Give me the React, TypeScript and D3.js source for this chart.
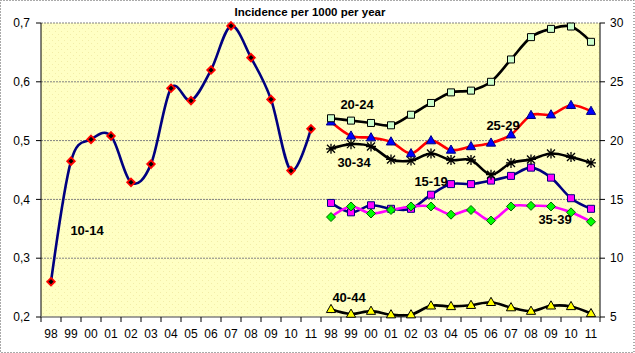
import React from "react";
import * as d3 from "d3";

const years = ["98", "99", "00", "01", "02", "03", "04", "05", "06", "07", "08", "09", "10", "11"];
const categories = [...years, ...years];

const leftTicks = [0.2, 0.3, 0.4, 0.5, 0.6, 0.7];
const rightTicks = [5, 10, 15, 20, 25, 30];

// left axis series (10-14), categories 0..13
const inc1014 = [0.26, 0.465, 0.502, 0.508, 0.429, 0.46, 0.589, 0.568, 0.62, 0.695, 0.641, 0.57, 0.449, 0.52];
// right axis series, categories 14..27
const inc1519 = [14.7, 13.9, 14.5, 14.2, 14.2, 15.4, 16.3, 16.3, 16.6, 17.0, 17.7, 16.85, 15.1, 14.2];
const inc2024 = [21.9, 21.7, 21.5, 21.3, 22.2, 23.2, 24.1, 24.25, 25.0, 26.9, 28.8, 29.5, 29.7, 28.4];
const inc2529 = [21.6, 20.4, 20.25, 19.9, 18.9, 20.0, 19.2, 19.5, 19.8, 20.5, 22.15, 22.2, 23.0, 22.5];
const inc3034 = [19.3, 19.7, 19.5, 18.4, 18.3, 18.9, 18.35, 18.35, 17.1, 18.1, 18.4, 18.9, 18.6, 18.1];
const inc3539 = [13.5, 14.4, 13.8, 14.1, 14.4, 14.4, 13.7, 14.1, 13.2, 14.4, 14.45, 14.4, 13.9, 13.1];
const inc4044 = [5.65, 5.25, 5.5, 5.2, 5.2, 5.95, 5.9, 6.0, 6.25, 5.8, 5.5, 5.95, 5.9, 5.3];

type Marker = "diamond" | "smalldiamond" | "square" | "triangle" | "star";
type Series = {
  name: string; values: number[]; offset: number; axis: "L" | "R";
  line: string; marker: Marker; fill: string; stroke: string; mw: number;
  labelX: number; labelY: number;
};

const series: Series[] = [
  { name: "10-14", values: inc1014, offset: 0, axis: "L", line: "#000080", marker: "smalldiamond", fill: "#000000", stroke: "#FF0000", mw: 1.8, labelX: 1.8, labelY: 0.348 },
  { name: "15-19", values: inc1519, offset: 14, axis: "R", line: "#000080", marker: "square", fill: "#FF00FF", stroke: "#000080", mw: 1, labelX: 19.0, labelY: 16.5 },
  { name: "35-39", values: inc3539, offset: 14, axis: "R", line: "#FF00FF", marker: "diamond", fill: "#00FF00", stroke: "#006600", mw: 1, labelX: 25.2, labelY: 13.3 },
  { name: "40-44", values: inc4044, offset: 14, axis: "R", line: "#000000", marker: "triangle", fill: "#FFFF00", stroke: "#000000", mw: 1, labelX: 14.9, labelY: 6.7 },
  { name: "30-34", values: inc3034, offset: 14, axis: "R", line: "#000000", marker: "star", fill: "none", stroke: "#000000", mw: 1.3, labelX: 15.15, labelY: 18.1 },
  { name: "25-29", values: inc2529, offset: 14, axis: "R", line: "#FF0000", marker: "triangle", fill: "#0000FF", stroke: "#000080", mw: 1, labelX: 22.6, labelY: 21.3 },
  { name: "20-24", values: inc2024, offset: 14, axis: "R", line: "#000000", marker: "square", fill: "#CCFFCC", stroke: "#000000", mw: 1, labelX: 15.3, labelY: 23.1 },
];

const W = 635, H = 353;
const L = 41, R = 600, T = 23, B = 317;

function markerPath(m: Marker): string {
  switch (m) {
    case "diamond": return "M0,-4.5L4.5,0L0,4.5L-4.5,0Z";
    case "smalldiamond": return "M0,-3.8L3.8,0L0,3.8L-3.8,0Z";
    case "square": return "M-3.5,-3.5H3.5V3.5H-3.5Z";
    case "triangle": return "M0,-5L4.6,3.2H-4.6Z";
    case "star": return "M-4,-4L4,4M-4,4L4,-4M0,-5V5M-5,0H5";
  }
}

export default function App() {
  const x = d3.scaleBand<string>().domain(categories.map((_, i) => String(i))).range([L, R + 1]).paddingInner(0).paddingOuter(0);
  const xc = (i: number) => (x(String(i)) as number) + x.bandwidth() / 2;
  const xl = d3.scaleLinear().domain([-0.5, 27.5]).range([L, R + 1]);
  const yL = d3.scaleLinear().domain([0.2, 0.7]).range([B, T]);
  const yR = d3.scaleLinear().domain([5, 30]).range([B, T]);
  const font = "'Liberation Sans', Arial, sans-serif";

  return (
    <svg width={W} height={H} style={{ position: "fixed", left: 0, top: 0, display: "block" }} fontFamily={font}>
      <defs>
        <pattern id="dots" width="6" height="6" patternUnits="userSpaceOnUse">
          <rect width="6" height="6" fill="#FFFFC4" />
          <rect x="1" y="1" width="1" height="1" fill="#F2EDA8" />
          <rect x="4" y="4" width="1" height="1" fill="#F2EDA8" />
        </pattern>
      </defs>
      <rect x={0} y={0} width={W} height={H} fill="#FFFFFF" />
      <rect x={0.5} y={0.5} width={W - 1.5} height={H - 1} fill="none" stroke="#555" strokeDasharray="1,2" />
      <rect x={L} y={T} width={R - L} height={B - T} fill="url(#dots)" />

      {/* gridlines */}
      {leftTicks.slice(1).map((t) => (
        <line key={"g" + t} x1={L} x2={R} y1={yL(t)} y2={yL(t)} stroke="#808080" strokeWidth={1} strokeDasharray="2,1" />
      ))}

      {/* left axis */}
      <line x1={L} x2={L} y1={T} y2={B} stroke="#000" strokeWidth={1} />
      {leftTicks.map((t) => (
        <g key={"lt" + t}>
          <line x1={L - 5} x2={L} y1={yL(t)} y2={yL(t)} stroke="#000" />
          <text x={L - 11} y={yL(t)} dy="0.35em" textAnchor="end" fontSize={12} fill="#000">
            {String(t.toFixed(1)).replace(".", ",")}
          </text>
        </g>
      ))}

      {/* right axis */}
      <line x1={R} x2={R} y1={T} y2={B} stroke="#000" strokeWidth={1} />
      {rightTicks.map((t) => (
        <g key={"rt" + t}>
          <line x1={R} x2={R + 5} y1={yR(t)} y2={yR(t)} stroke="#000" />
          <text x={R + 10} y={yR(t)} dy="0.35em" textAnchor="start" fontSize={12} fill="#000">{t}</text>
        </g>
      ))}

      {/* x axis */}
      <line x1={L} x2={R} y1={B} y2={B} stroke="#808080" strokeWidth={1.5} />
      {categories.map((c, i) => (
        <g key={"xc" + i}>
          <line x1={x(String(i)) as number} x2={x(String(i)) as number} y1={B} y2={B + 5} stroke="#000" />
          <text x={xc(i)} y={B + 17} dy="0.35em" textAnchor="middle" fontSize={12} fill="#000">{c}</text>
        </g>
      ))}
      <line x1={R} x2={R} y1={B} y2={B + 5} stroke="#000" />

      {/* series */}
      {series.map((s) => {
        const y = s.axis === "L" ? yL : yR;
        const pts: [number, number][] = s.values.map((v, i) => [xc(i + s.offset), y(v)]);
        const path = d3.line().curve(d3.curveCardinal.tension(0))(pts) || "";
        return (
          <g key={s.name}>
            <path d={path} fill="none" stroke={s.line} strokeWidth={2.6} />
            {pts.map((p, i) => (
              <path key={i} transform={`translate(${p[0]},${p[1]})`} d={markerPath(s.marker)}
                fill={s.fill} stroke={s.stroke} strokeWidth={s.mw} />
            ))}
          </g>
        );
      })}

      {/* series labels */}
      {series.map((s) => {
        const y = s.axis === "L" ? yL : yR;
        return (
          <text key={"lab" + s.name} x={xl(s.labelX)} y={y(s.labelY)} dy="0.35em" textAnchor="middle"
            fontSize={13} fontWeight="bold" fill="#000">{s.name}</text>
        );
      })}

      {/* title */}
      <text x={310} y={16} textAnchor="middle" fontSize={11.5} fontWeight="bold" fill="#000">Incidence per 1000 per year</text>
    </svg>
  );
}
